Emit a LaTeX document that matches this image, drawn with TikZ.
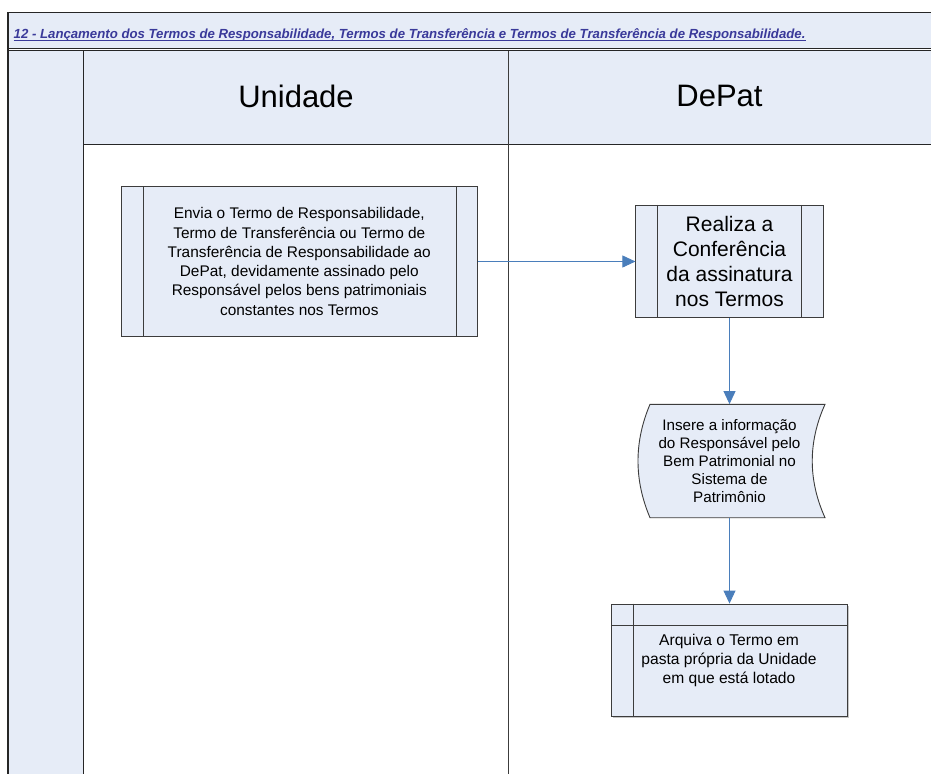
\documentclass[tikz,border=0pt]{standalone}
\usepackage{fontspec}
\setmainfont{Liberation Sans}
\usetikzlibrary{arrows.meta}
\definecolor{lanefill}{HTML}{E6ECF7}
\definecolor{flowblue}{HTML}{4A7EBB}
\definecolor{titleblue}{HTML}{3A3A9A}
\definecolor{edge}{HTML}{3C3C3C}
\tikzset{
  proc/.style={draw=edge, line width=0.9pt, fill=lanefill, inner sep=0pt, align=center},
  flow/.style={draw=flowblue, line width=0.9pt, -{Triangle[length=13pt,width=12pt]}},
  frame/.style={draw=black!85, line width=1.1pt},
  bodytext/.style={font=\fontsize{15.4}{19.3}\selectfont},
}
\begin{document}
\begin{tikzpicture}[x=1pt,y=-1pt]
\useasboundingbox (0,0) rectangle (931,774);
\fill[white] (0,0) rectangle (931,774);

% pool background
\fill[lanefill] (8,12.7) rectangle (931,48.3);
\fill[lanefill] (83.3,50.7) rectangle (931,144);
\fill[lanefill] (8,50.7) rectangle (83.3,774);

% pool frame
\draw[frame] (931,12.7) -- (8,12.7) -- (8,774);
\draw[frame] (8,48.3) -- (931,48.3);
\draw[frame] (8,50.7) -- (931,50.7);
\draw[frame, line width=0.9pt] (83.3,144) -- (931,144);
\draw[frame, line width=0.9pt] (83.3,50.7) -- (83.3,774);
\draw[draw=edge, line width=1.6pt] (508.3,50.7) -- (508.3,774);

% title
\node[anchor=base west, inner sep=0pt, text=titleblue,
      font=\fontsize{13.2}{15}\selectfont\bfseries\itshape] (title) at (13.5,38.3)
  {12 - Lançamento dos Termos de Responsabilidade, Termos de Transferência e Termos de Transferência de Responsabilidade.};
\draw[titleblue, line width=0.8pt] ([yshift=-1.8pt]title.base west) -- ([yshift=-1.8pt]title.base east);

% lane headers
\node[font=\fontsize{31}{36}\selectfont] (unidade) at (296,96) {Unidade};
\node[font=\fontsize{31}{36}\selectfont] (depat) at (719.5,96) {DePat};

% process: send the terms
\node[proc, bodytext, minimum width=356.7pt, minimum height=150pt] (envia) at (299.3,261.5)
  {Envia o Termo de Responsabilidade,\\Termo de Transferência ou Termo de\\Transferência de Responsabilidade ao\\DePat, devidamente assinado pelo\\Responsável pelos bens patrimoniais\\constantes nos Termos};
\draw[edge, line width=0.9pt] ([xshift=22.7pt]envia.north west) -- ([xshift=22.7pt]envia.south west);
\draw[edge, line width=0.9pt] ([xshift=-22pt]envia.north east) -- ([xshift=-22pt]envia.south east);

% process: check signatures
\node[proc, font=\fontsize{21}{24.7}\selectfont, minimum width=187.3pt, minimum height=112.6pt] (confere) at (729.5,261.5)
  {Realiza a\\Conferência\\da assinatura\\nos Termos};
\draw[edge, line width=0.9pt] ([xshift=22.3pt]confere.north west) -- ([xshift=22.3pt]confere.south west);
\draw[edge, line width=0.9pt] ([xshift=-22pt]confere.north east) -- ([xshift=-22pt]confere.south east);

% stored data: register in the system
\draw[proc] (650,404.3) -- (825,404.3)
  .. controls (808,442) and (808,480) .. (825,517.7) -- (650,517.7)
  .. controls (634,480) and (634,442) .. (650,404.3) -- cycle;
\node[font=\fontsize{15.2}{18.2}\selectfont, align=center, inner sep=0pt,
      minimum width=175pt, minimum height=113.4pt] (insere) at (729.5,461)
  {Insere a informação\\do Responsável pelo\\Bem Patrimonial no\\Sistema de\\Patrimônio};

% process: file the term
\fill[black!22] (613,605.5) rectangle (848.8,718.3);
\node[proc, minimum width=236.3pt, minimum height=112.7pt] (arquiva) at (729.5,660.35) {};
\draw[edge, line width=0.9pt] ([xshift=22.3pt]arquiva.north west) -- ([xshift=22.3pt]arquiva.south west);
\draw[edge, line width=0.9pt] ([yshift=-22pt]arquiva.north west) -- ([yshift=-22pt]arquiva.north east);
\node[font=\fontsize{15.6}{19}\selectfont, align=center] (arquivatxt) at (729,660.5)
  {Arquiva o Termo em\\pasta própria da Unidade\\em que está lotado};

% connectors
\draw[flow] (envia.east) -- (confere.west);
\draw[flow] (confere.south) -- (insere.north);
\draw[flow] (insere.south) -- (arquiva.north);
\end{tikzpicture}
\end{document}
